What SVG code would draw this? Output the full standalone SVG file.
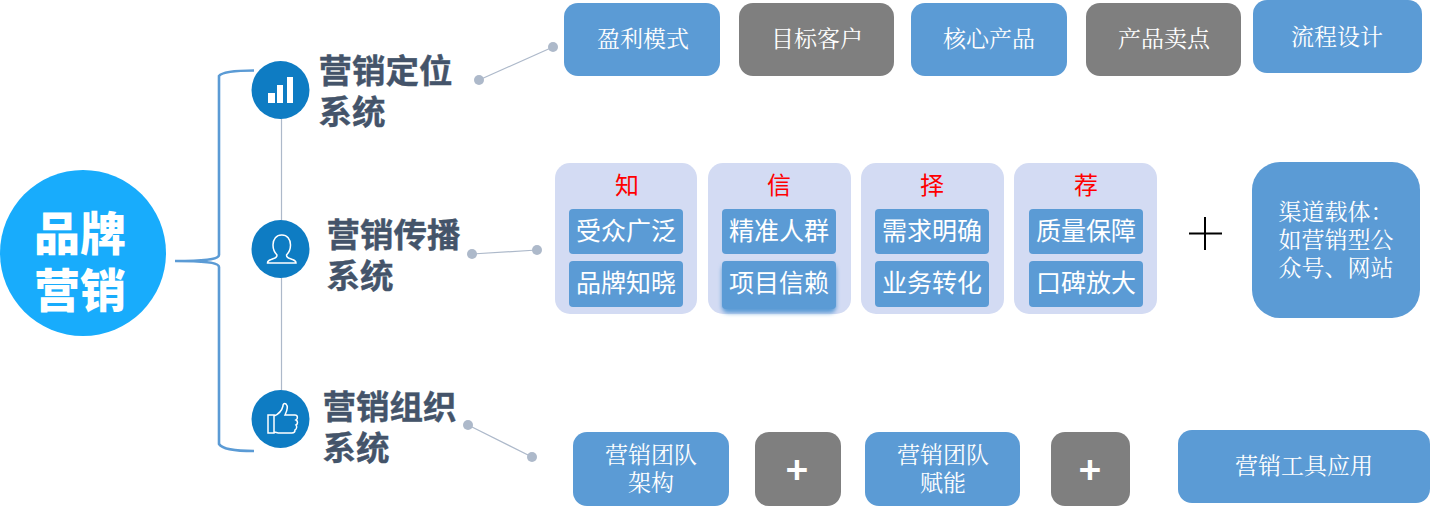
<svg xmlns="http://www.w3.org/2000/svg" width="1431" height="506" viewBox="0 0 1431 506">
<style>
.bl{fill:#5b9bd5}.gr{fill:#7f7f7f}.pn{fill:#d3dbf3}.ic{fill:#0e7cc3}
.t{font-family:"Noto Sans CJK SC",sans-serif;text-anchor:middle}
.s{font-family:"Noto Serif CJK SC","Noto Sans CJK SC",serif;text-anchor:middle;fill:#fff;font-size:23px}
.w{font-size:25px;fill:#fff;font-family:"Noto Sans CJK SC",sans-serif;text-anchor:middle}
.r{font-size:24px;fill:#f00;font-family:"Noto Sans CJK SC",sans-serif;text-anchor:middle}
.h{font-size:33.500px;font-weight:700;fill:#44546a;stroke:#44546a;stroke-width:.4;font-family:"Noto Sans CJK SC",sans-serif}
.dot{fill:#adb9ca}.ln{stroke:#adb9ca;stroke-width:1.2;fill:none}
.wi{fill:none;stroke:#fff;stroke-width:1.500}
</style>
<defs><filter id="b" x="-10%" y="-10%" width="120%" height="130%"><feGaussianBlur stdDeviation="2"/></filter></defs>
<g id="connectors">
<path d="M281.500 100V420" class="ln"/>
<path d="M254 70.500C235 70.500 222 72 219 76V255C219 258 212 261 175 261C212 261 219 264 219 267V444C222 449 235 451 254 451" fill="none" stroke="#5b9bd5" stroke-width="2.600"/>
<path d="M479 80L553 47" class="ln"/><circle cx="479" cy="80" r="5" class="dot"/><circle cx="553" cy="47" r="5" class="dot"/>
<path d="M472 254L537 250" class="ln"/><circle cx="472" cy="254" r="5" class="dot"/><circle cx="537" cy="250" r="5" class="dot"/>
<path d="M468 425L532 457" class="ln"/><circle cx="468" cy="425" r="5" class="dot"/><circle cx="532" cy="457" r="5" class="dot"/>
</g>
<g id="root"><circle cx="83" cy="253" r="83" fill="#18acfc"/>
<text class="t" font-size="46" font-weight="900" fill="#fff"><tspan x="80" y="250">品牌</tspan><tspan x="80" y="307">营销</tspan></text></g>
<g id="sys1"><circle cx="280.500" cy="90" r="29" class="ic"/>
<path d="M268 93h7v10h-7zM277 85h6v18h-6zM287 77h6v26h-6z" fill="#fff"/>
<text class="h"><tspan x="318.500" y="83">营销定位</tspan><tspan x="318.500" y="124">系统</tspan></text></g>
<g id="sys2"><circle cx="280.500" cy="249" r="29" class="ic"/>
<path class="wi" d="M281.500 235c-5 0-8.500 4-8.500 10 0 5 2 8 4 10 0 3-2 3-6 4.500-3 1-3.500 2.500-3.500 3.500h28.500c0-1-.5-2.500-3.500-3.500-4-1.500-6-1.500-6-4.500 2-2 4-5 4-10 0-6-3.500-10-8.500-10z"/>
<text class="h"><tspan x="326.500" y="247">营销传播</tspan><tspan x="326.500" y="288">系统</tspan></text></g>
<g id="sys3"><circle cx="280.500" cy="419" r="29" class="ic"/>
<path class="wi" d="M268 415h6v18h-6zM274 416c5-2 8-6 9-10 0-2 1-3 3-2 2 2 1 7-1 11h10c3 0 3 4 1 5 2 1 2 4 0 5 1 1 1 4-1 5 0 2-1 3-3 3h-12c-3 0-4-1-6-1"/>
<text class="h"><tspan x="322.500" y="419">营销组织</tspan><tspan x="322.500" y="460">系统</tspan></text></g>
<g id="top1"><rect class="bl" x="564" y="3" width="156" height="73" rx="14"/><text class="s" x="643" y="47">盈利模式</text></g>
<g id="top2"><rect class="gr" x="739" y="3" width="155" height="73" rx="14"/><text class="s" x="817" y="47">目标客户</text></g>
<g id="top3"><rect class="bl" x="911" y="3" width="156" height="73" rx="14"/><text class="s" x="989" y="47">核心产品</text></g>
<g id="top4"><rect class="gr" x="1086" y="3" width="155" height="73" rx="14"/><text class="s" x="1164" y="47">产品卖点</text></g>
<g id="top5"><rect class="bl" x="1253" y="0" width="169" height="73" rx="14"/><text class="s" x="1337" y="45">流程设计</text></g>
<g id="zhi"><rect class="pn" x="555" y="163" width="142" height="151" rx="15"/><text class="r" x="627" y="194">知</text>
<rect class="bl" x="569" y="209" width="114" height="45" rx="4"/><text class="w" x="626" y="240">受众广泛</text>
<rect class="bl" x="569" y="261" width="114" height="46" rx="4"/><text class="w" x="626" y="292">品牌知晓</text></g>
<g id="xin"><rect class="pn" x="708" y="163" width="143" height="151" rx="15"/><text class="r" x="779" y="194">信</text>
<rect class="bl" x="722" y="209" width="114" height="45" rx="4"/><text class="w" x="779" y="240">精准人群</text>
<rect class="bl" x="722" y="264" width="114" height="49" rx="6" filter="url(#b)"/>
<rect class="bl" x="722" y="261" width="114" height="48" rx="4"/><text class="w" x="779" y="292">项目信赖</text></g>
<g id="ze"><rect class="pn" x="861" y="163" width="143" height="151" rx="15"/><text class="r" x="932" y="194">择</text>
<rect class="bl" x="875" y="209" width="114" height="45" rx="4"/><text class="w" x="932" y="240">需求明确</text>
<rect class="bl" x="875" y="261" width="114" height="46" rx="4"/><text class="w" x="932" y="292">业务转化</text></g>
<g id="jian"><rect class="pn" x="1014" y="163" width="143" height="151" rx="15"/><text class="r" x="1086" y="194">荐</text>
<rect class="bl" x="1029" y="209" width="114" height="45" rx="4"/><text class="w" x="1086" y="240">质量保障</text>
<rect class="bl" x="1029" y="261" width="114" height="46" rx="4"/><text class="w" x="1086" y="292">口碑放大</text></g>
<g id="plus"><path d="M1189 233.500h33M1205 217v33" stroke="#000" stroke-width="2" fill="none"/></g>
<g id="channel"><rect class="bl" x="1252" y="162" width="168" height="156" rx="28"/>
<text class="s"><tspan x="1336" y="220">渠道载体：</tspan><tspan x="1336" y="248">如营销型公</tspan><tspan x="1336" y="276">众号、网站</tspan></text></g>
<g id="b1"><rect class="bl" x="573" y="432" width="156" height="74" rx="14"/><text class="s"><tspan x="651" y="463">营销团队</tspan><tspan x="651" y="491">架构</tspan></text></g>
<g id="p1"><rect class="gr" x="755" y="432" width="86" height="74" rx="14"/><text class="t" x="797" y="484" font-size="38" font-weight="700" fill="#fff">+</text></g>
<g id="b2"><rect class="bl" x="865" y="432" width="155" height="74" rx="14"/><text class="s"><tspan x="943" y="463">营销团队</tspan><tspan x="943" y="491">赋能</tspan></text></g>
<g id="p2"><rect class="gr" x="1051" y="432" width="79" height="74" rx="14"/><text class="t" x="1090" y="484" font-size="38" font-weight="700" fill="#fff">+</text></g>
<g id="b3"><rect class="bl" x="1178" y="430" width="252" height="73" rx="14"/><text class="s" x="1304" y="474">营销工具应用</text></g>
</svg>
